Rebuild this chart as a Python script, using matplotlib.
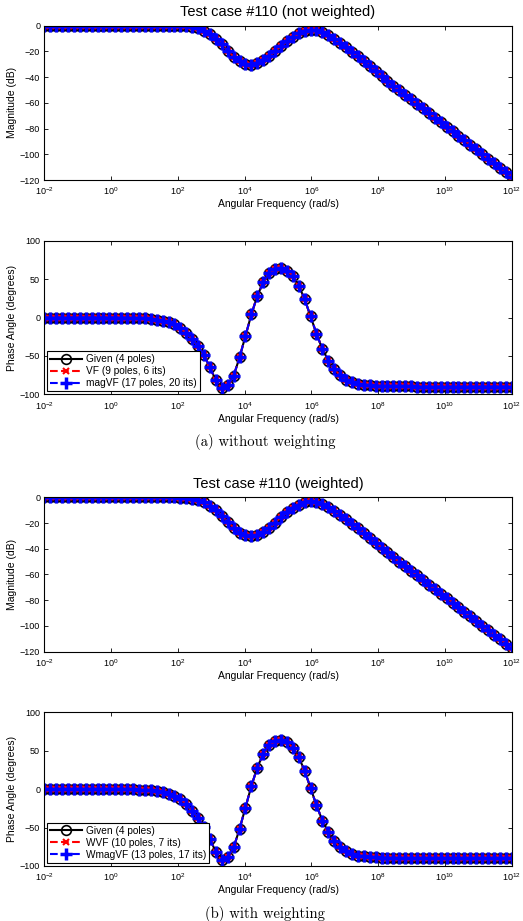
"""Bode plots of test case #110, fitted with and without weighting."""

import matplotlib.pyplot as plt
import numpy as np

# 80 log-spaced frequencies from 1e-2 to 1e12 rad/s (the sample grid)
LOG_FREQ_START = -2
LOG_FREQ_STOP = 12
N_FREQ = 80

# Magnitude of the given response (dB), one value per sample
MAGNITUDE_DB = [
    0.0, 0.0, 0.0, 0.0, 0.0, 0.0, 0.0, 0.0, 0.0, 0.0,
    0.0, 0.0, 0.0, 0.0, 0.0, 0.0, 0.0, 0.0, 0.0, 0.0,
    0.0, -0.05, -0.1, -0.24, -0.53, -1.1, -2.0, -4.0, -6.5, -10.0,
    -14.5, -19.5, -24.0, -27.5, -29.7, -30.3, -29.2, -26.8, -23.5, -19.6,
    -15.6, -11.8, -8.4, -5.7, -3.9, -3.1, -3.5, -5.0, -7.4, -10.3,
    -13.5, -16.9, -20.4, -23.9, -27.8, -31.6, -35.4, -39.1, -42.8, -46.6,
    -50.2, -53.7, -57.2, -60.8, -64.3, -67.9, -71.4, -75.0, -78.5, -82.1,
    -85.6, -89.1, -92.7, -96.2, -99.8, -103.3, -106.9, -110.4, -114.0, -117.5,
]

# Phase of the given response (degrees)
PHASE_DEG = [
    0.0, 0.0, 0.0, 0.0, 0.0, 0.0, 0.0, 0.0, 0.0, 0.0,
    0.0, 0.0, 0.0, -0.2, -0.3, -0.5, -0.8, -1.2, -1.8, -2.7,
    -4.0, -6.0, -9.0, -13.4, -19.6, -28.0, -37.5, -49.0, -65.0, -82.0,
    -92.0, -88.5, -76.0, -52.0, -24.0, 4.0, 28.0, 46.0, 57.5, 63.0,
    64.0, 61.0, 54.0, 41.5, 24.0, 1.5, -21.0, -41.0, -56.0, -67.0,
    -75.0, -81.0, -84.5, -86.5, -87.7, -88.4, -88.9, -89.2, -89.4, -89.6,
    -89.7, -89.8, -89.8, -89.9, -89.9, -89.9, -90.0, -90.0, -90.0, -90.0,
    -90.0, -90.0, -90.0, -90.0, -90.0, -90.0, -90.0, -90.0, -90.0, -90.0,
]

PANELS = [
    {
        'title': 'Test case #110 (not weighted)',
        'caption': '(a) without weighting',
        'labels': ['Given (4 poles)', 'VF (9 poles, 6 its)',
                   'magVF (17 poles, 20 its)'],
    },
    {
        'title': 'Test case #110 (weighted)',
        'caption': '(b) with weighting',
        'labels': ['Given (4 poles)', 'WVF (10 poles, 7 its)',
                   'WmagVF (13 poles, 17 its)'],
    },
]

FIG_W, FIG_H = 523, 921
AX_LEFT, AX_RIGHT = 44.3, 511.7
PANEL_OFFSET = 471.6
MAG_TOP, MAG_BOTTOM = 25.7, 180.0
PHASE_TOP, PHASE_BOTTOM = 240.7, 394.3
TITLE_Y = 12.0
CAPTION_Y = 442.0

SANS = ['Liberation Sans', 'DejaVu Sans']
TICK_SIZE = 6.5
LABEL_SIZE = 7.5
LEGEND_SIZE = 7.3


def axes_rect(top, bottom):
    """Convert pixel edges (from the top) to a figure-fraction rectangle."""
    return [AX_LEFT / FIG_W, 1 - bottom / FIG_H,
            (AX_RIGHT - AX_LEFT) / FIG_W, (bottom - top) / FIG_H]


def style_axes(ax, ylim, yticks, ylabel):
    """MATLAB-like boxed axes with inward ticks."""
    ax.set_xscale('log')
    ax.set_xlim(10.0 ** LOG_FREQ_START, 10.0 ** LOG_FREQ_STOP)
    ax.set_xticks([10.0 ** p for p in range(LOG_FREQ_START, LOG_FREQ_STOP + 1, 2)])
    ax.xaxis.set_minor_locator(plt.NullLocator())
    ax.set_ylim(*ylim)
    ax.set_yticks(yticks)
    ax.tick_params(direction='in', top=True, right=True, length=3,
                   width=0.6, labelsize=TICK_SIZE, pad=3)
    ax.tick_params(axis='x', pad=4)
    for spine in ax.spines.values():
        spine.set_linewidth(0.8)
    ax.set_xlabel('Angular Frequency (rad/s)', fontsize=LABEL_SIZE, labelpad=1.5)
    ax.set_ylabel(ylabel, fontsize=LABEL_SIZE, labelpad=2)


def plot_curves(ax, freq, values, labels):
    """Given response plus the two fitted responses drawn on top."""
    h1, = ax.plot(freq, values, '-o', color='black', lw=1.5, ms=7,
                  mfc='none', mec='black', mew=1.2, label=labels[0])
    h2, = ax.plot(freq, values, '--x', color='red', lw=1.5, ms=4,
                  mew=1.5, label=labels[1])
    h3, = ax.plot(freq, values, '--+', color='blue', lw=1.5, ms=8,
                  mew=2.5, label=labels[2])
    return [h1, h2, h3]


def main():
    """Draw both panels and save the figure."""
    plt.rcParams['font.family'] = SANS
    freq = np.logspace(LOG_FREQ_START, LOG_FREQ_STOP, N_FREQ)

    fig = plt.figure(figsize=(FIG_W / 100, FIG_H / 100), dpi=100)
    for i, panel in enumerate(PANELS):
        off = i * PANEL_OFFSET
        ax_mag = fig.add_axes(axes_rect(MAG_TOP + off, MAG_BOTTOM + off))
        plot_curves(ax_mag, freq, MAGNITUDE_DB, panel['labels'])
        style_axes(ax_mag, (-120, 0), range(-120, 1, 20), 'Magnitude (dB)')

        ax_ph = fig.add_axes(axes_rect(PHASE_TOP + off, PHASE_BOTTOM + off))
        handles = plot_curves(ax_ph, freq, PHASE_DEG, panel['labels'])
        style_axes(ax_ph, (-100, 100), range(-100, 101, 50),
                   'Phase Angle (degrees)')
        leg = ax_ph.legend(handles=handles, loc='lower left',
                           fontsize=LEGEND_SIZE, fancybox=False, framealpha=1,
                           edgecolor='black', borderaxespad=0.3,
                           handlelength=3.1, handletextpad=0.4, borderpad=0.3,
                           labelspacing=0.2)
        leg.get_frame().set_linewidth(0.8)

        fig.text((AX_LEFT + AX_RIGHT) / 2 / FIG_W, 1 - (TITLE_Y + off) / FIG_H,
                 panel['title'], ha='center', va='center', fontsize=10.5)
        fig.text(265 / FIG_W, 1 - (CAPTION_Y + off) / FIG_H, panel['caption'],
                 ha='center', va='center', fontsize=10.6, family='cmr10')

    fig.savefig('out.png', dpi=100)
    plt.close(fig)


if __name__ == '__main__':
    main()
